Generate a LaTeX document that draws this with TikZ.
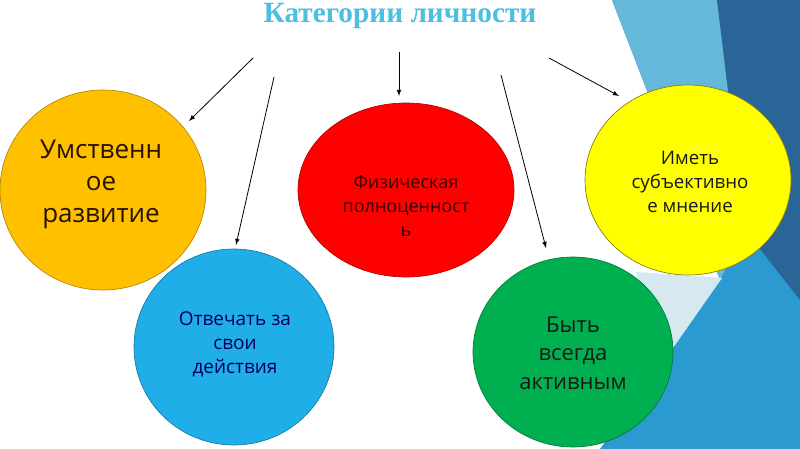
\documentclass[tikz,border=0pt]{standalone}
\usepackage{fontspec}
\setmainfont{Open Sans}
\newfontfamily\titlefont{Liberation Serif}
\usepackage{tikz}
\usetikzlibrary{calc}
\definecolor{bgLight}{HTML}{66B8DA}
\definecolor{bgMid}{HTML}{2A9AD0}
\definecolor{bgDark}{HTML}{2A6597}
\definecolor{bgPale}{HTML}{D6E8F0}
\definecolor{titleBlue}{HTML}{4CBFE0}
\definecolor{cOrange}{HTML}{FFC000}
\definecolor{cBlue}{HTML}{1FAEE8}
\definecolor{cRed}{HTML}{FF0000}
\definecolor{cYellow}{HTML}{FFFF00}
\definecolor{cGreen}{HTML}{00B050}
\tikzset{
  bubble/.style={line width=0.5pt},
  bubbletext/.style={anchor=center,inner sep=0.75pt,align=center},
  pointer/.style={->,>=latex,line width=0.6pt,color=black}
}

\begin{document}
\begin{tikzpicture}[x=0.75pt,y=0.75pt,yscale=-1,xscale=1]
\useasboundingbox (0,0) rectangle (800,449);
\fill[white] (0,0) rectangle (800,449);

%Shape: Background polygons
\fill[bgMid] (612,0) -- (800,0) -- (800,449) -- (600,449) -- (675,345) -- (720,280) -- cycle;
\fill[bgLight] (612,0) -- (717,0) -- (745,230) -- (720,280) -- cycle;
\fill[bgDark] (717,0) -- (800,0) -- (800,300) -- (745,230) -- cycle;
\fill[bgPale] (636,272) -- (722,278) -- (675,345) -- (650,325) -- cycle;

%Shape: Ellipse orange
\draw[bubble,draw=cOrange!70!black,fill=cOrange] (103,190) ellipse [x radius=103,y radius=100];
%Shape: Ellipse red
\draw[bubble,draw=cRed!70!black,fill=cRed] (406,190) ellipse [x radius=108,y radius=87];
%Shape: Ellipse yellow
\draw[bubble,draw=cYellow!50!black,fill=cYellow] (688,180) ellipse [x radius=103,y radius=95];
%Shape: Ellipse blue
\draw[bubble,draw=cBlue!70!black,fill=cBlue] (234,347) ellipse [x radius=100,y radius=98];
%Shape: Ellipse green
\draw[bubble,draw=cGreen!70!black,fill=cGreen] (573,352) ellipse [x radius=100,y radius=95];

% Text Node
\node (title) at (400,16) [inner sep=0pt,text=titleBlue,font=\titlefont\bfseries\fontsize{22}{24}\selectfont] {Категории личности};
% Text Node
\node (mind) at (101,184) [bubbletext,text=black!85!orange,font=\fontsize{19.5}{24}\selectfont] {Умственн\\ое\\развитие};
% Text Node
\node (body) at (406,206) [bubbletext,text=black!80!red,font=\fontsize{13.5}{18}\selectfont] {Физическая\\полноценност\\ь};
% Text Node
\node (opinion) at (690,182) [bubbletext,text=black!90,font=\fontsize{14}{18}\selectfont] {Иметь\\субъективно\\е мнение};
% Text Node
\node (duty) at (235,344) [bubbletext,text=blue!35!black,font=\fontsize{14.25}{18}\selectfont] {Отвечать за\\свои\\действия};
% Text Node
\node (active) at (573,353) [bubbletext,text=black!90,font=\fontsize{16.5}{21.5}\selectfont] {Быть\\всегда\\активным};

%Straight Lines
\coordinate (s1) at (253,58);  \coordinate (e1) at (189,121);
\coordinate (s2) at (274,77);  \coordinate (e2) at (236,245);
\coordinate (s3) at (399,52);  \coordinate (e3) at (399,96);
\coordinate (s4) at (501,75);  \coordinate (e4) at (546,248);
\coordinate (s5) at (549,58);  \coordinate (e5) at (619,96);
\draw[pointer] (s1) -- (e1);
\draw[pointer] (s2) -- (e2);
\draw[pointer] (s3) -- (e3);
\draw[pointer] (s4) -- (e4);
\draw[pointer] (s5) -- (e5);

\end{tikzpicture}
\end{document}
